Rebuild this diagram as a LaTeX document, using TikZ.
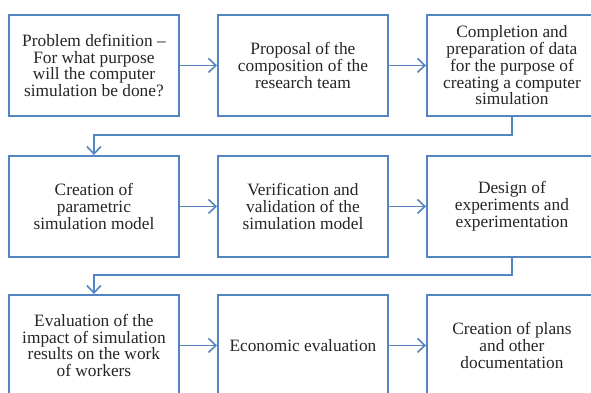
\documentclass[tikz,border=0pt]{standalone}
\usepackage{fontspec}
\setmainfont{Liberation Serif}
\usetikzlibrary{arrows.meta}
\definecolor{boxblue}{HTML}{5584C2}
\definecolor{txt}{HTML}{262626}
\begin{document}
\begin{tikzpicture}[x=0.75pt,y=-0.75pt,
  stepbox/.style={draw=boxblue, line width=1.4pt, fill=white,
    minimum width=127.5pt, minimum height=75.75pt, inner sep=0pt,
    align=center, text=txt, font=\fontsize{13}{12.6}\selectfont,
    anchor=north west},
  flow/.style={draw=boxblue, line width=1.2pt,
    -{Straight Barb[length=5.5pt,width=10.5pt,line width=1.2pt]}}]
\useasboundingbox (0,0) rectangle (591,392);
\fill[white] (0,0) rectangle (591,392);
\clip (0,0) rectangle (591,392);
% row 1
\node[stepbox] (a1) at (8,14) {Problem definition --\\For what purpose\\will the computer\\simulation be done?};
\node[stepbox] (a2) at (217,14) {Proposal of the\\composition of the\\research team};
\node[stepbox] (a3) at (426,14) {Completion and\\preparation of data\\for the purpose of\\creating a computer\\simulation};
% row 2
\node[stepbox] (b1) at (8,155) {Creation of\\parametric\\simulation model};
\node[stepbox] (b2) at (217,155) {Verification and\\validation of the\\simulation model};
\node[stepbox] (b3) at (426,155) {Design of\\experiments and\\experimentation};
% row 3
\node[stepbox] (c1) at (8,294) {Evaluation of the\\impact of simulation\\results on the work\\of workers};
\node[stepbox] (c2) at (217,294) {Economic evaluation};
\node[stepbox] (c3) at (426,294) {Creation of plans\\and other\\documentation};
% horizontal arrows
\draw[flow] (a1) -- (a2);
\draw[flow] (a2) -- (a3);
\draw[flow] (b1) -- (b2);
\draw[flow] (b2) -- (b3);
\draw[flow] (c1) -- (c2);
\draw[flow] (c2) -- (c3);
% row connectors
\coordinate (m1) at (0,135);
\coordinate (m2) at (0,275);
\draw[flow] (a3.south) |- (b1.north |- m1) -- (b1.north);
\draw[flow] (b3.south) |- (c1.north |- m2) -- (c1.north);
\end{tikzpicture}
\end{document}
